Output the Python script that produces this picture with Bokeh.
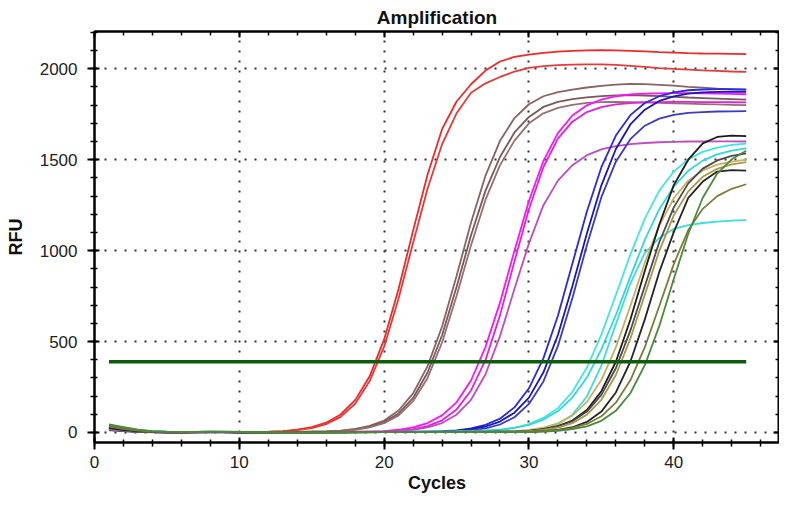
from bokeh.plotting import figure
from bokeh.models import Range1d, LinearAxis, SingleIntervalTicker
from bokeh.embed import file_html
from bokeh.resources import INLINE

cycles = list(range(1, 46))
threshold_rfu = 389
threshold_cycles = [1, 45]

# RFU per cycle
red_a = [30, 16, 7, 3, 2, 2, 3, 4, 3, 2, 2, 4, 8, 16, 29, 54, 99, 178, 309, 512, 790, 1110, 1419,
         1668, 1820, 1915, 1990, 2040, 2065, 2078, 2088, 2094, 2098, 2101, 2102, 2101, 2099, 2096,
         2092, 2089, 2086, 2084, 2083, 2082, 2081]
red_b = [24, 12, 5, 2, 1, 1, 2, 3, 2, 1, 1, 3, 6, 13, 24, 46, 86, 158, 283, 472, 738, 1043, 1342,
         1585, 1755, 1868, 1920, 1955, 1985, 2005, 2015, 2020, 2023, 2024, 2024, 2021, 2016, 2010,
         2004, 1999, 1995, 1991, 1988, 1985, 1983]
brown_a = [26, 14, 6, 3, 2, 1, 2, 3, 3, 2, 1, 1, 2, 3, 4, 6, 10, 20, 36, 66, 121, 215, 365, 583,
           860, 1155, 1413, 1604, 1729, 1805, 1849, 1872, 1885, 1897, 1906, 1913, 1917, 1916, 1912,
           1907, 1901, 1896, 1891, 1887, 1884]
brown_b = [18, 10, 5, 2, 1, 1, 2, 2, 2, 1, 1, 1, 2, 3, 4, 5, 9, 17, 31, 57, 105, 190, 330, 535,
           800, 1085, 1330, 1515, 1650, 1735, 1790, 1818, 1833, 1843, 1850, 1854, 1855, 1853, 1850,
           1846, 1842, 1839, 1836, 1833, 1830]
brown_c = [34, 20, 9, 4, 2, 2, 3, 3, 2, 2, 1, 2, 2, 3, 4, 5, 8, 15, 28, 51, 94, 172, 300, 495,
           750, 1030, 1280, 1470, 1605, 1700, 1755, 1785, 1802, 1812, 1817, 1818, 1817, 1815, 1812,
           1810, 1808, 1806, 1804, 1802, 1800]
magenta_a = [22, 12, 6, 3, 2, 1, 2, 3, 2, 2, 1, 1, 2, 2, 2, 3, 3, 4, 5, 8, 15, 28, 52, 94, 166,
             286, 471, 714, 1000, 1274, 1494, 1646, 1743, 1799, 1831, 1849, 1859, 1863, 1865,
             1866, 1866, 1865, 1864, 1862, 1860]
magenta_b = [16, 9, 4, 2, 1, 1, 1, 2, 2, 1, 1, 1, 1, 2, 2, 2, 3, 3, 4, 5, 9, 18, 35, 67, 126,
             231, 399, 644, 941, 1229, 1460, 1616, 1709, 1762, 1789, 1804, 1811, 1815, 1817, 1818,
             1818, 1817, 1817, 1816, 1815]
orchid = [12, 7, 3, 1, 1, 0, 1, 2, 1, 1, 0, 1, 1, 1, 2, 2, 2, 3, 3, 4, 8, 15, 28, 52, 98, 180,
          320, 530, 790, 1040, 1250, 1385, 1470, 1525, 1557, 1575, 1586, 1592, 1596, 1598, 1600,
          1600, 1601, 1601, 1600]
blue_a = [28, 15, 7, 3, 2, 1, 2, 3, 2, 2, 1, 1, 1, 1, 2, 2, 2, 2, 3, 3, 3, 4, 5, 7, 12, 23, 42,
          76, 138, 243, 409, 642, 929, 1215, 1459, 1633, 1745, 1812, 1849, 1870, 1882, 1886, 1888,
          1888, 1887]
blue_b = [20, 11, 5, 2, 1, 1, 1, 2, 2, 1, 1, 0, 1, 1, 1, 2, 2, 2, 2, 3, 3, 3, 4, 5, 9, 18, 33,
          60, 109, 192, 331, 536, 805, 1094, 1359, 1559, 1694, 1775, 1823, 1848, 1863, 1870, 1873,
          1874, 1873]
blue_c = [14, 8, 4, 2, 1, 1, 1, 1, 1, 1, 0, 0, 1, 1, 1, 1, 1, 2, 2, 2, 2, 2, 3, 3, 6, 12, 23, 44,
          84, 157, 281, 476, 740, 1030, 1294, 1489, 1613, 1687, 1726, 1747, 1758, 1762, 1765, 1766,
          1767]
cyan_a = [42, 28, 14, 7, 4, 3, 3, 4, 4, 3, 2, 2, 1, 1, 1, 2, 2, 2, 3, 3, 3, 4, 4, 5, 6, 8, 11,
          15, 26, 46, 80, 134, 224, 357, 538, 756, 978, 1176, 1330, 1435, 1502, 1543, 1567, 1581,
          1589]
cyan_b = [36, 22, 11, 5, 3, 2, 3, 4, 3, 2, 2, 1, 1, 1, 1, 2, 2, 2, 2, 3, 3, 3, 4, 4, 5, 7, 10,
          15, 25, 42, 71, 118, 192, 302, 457, 646, 857, 1059, 1228, 1352, 1439, 1495, 1529, 1550,
          1562]
cyan_low = [30, 18, 9, 4, 2, 2, 2, 3, 3, 2, 1, 1, 1, 1, 1, 1, 1, 2, 2, 2, 2, 2, 2, 2, 3, 3, 3, 3,
            4, 9, 21, 46, 98, 198, 368, 596, 819, 987, 1070, 1120, 1140, 1152, 1160, 1165, 1168]
khaki_a = [26, 15, 7, 3, 2, 1, 2, 3, 2, 2, 1, 1, 1, 1, 1, 1, 2, 2, 2, 2, 2, 3, 3, 3, 3, 4, 4, 5,
           8, 14, 27, 50, 93, 168, 288, 468, 695, 933, 1139, 1288, 1385, 1441, 1473, 1490, 1500]
black_a = [22, 12, 6, 3, 1, 1, 2, 2, 2, 1, 1, 1, 1, 1, 1, 1, 1, 2, 2, 2, 2, 2, 2, 3, 3, 3, 3, 4,
           5, 9, 18, 35, 66, 124, 227, 389, 620, 889, 1144, 1360, 1500, 1590, 1625, 1632, 1630]
gray_a = [38, 24, 12, 6, 3, 2, 3, 3, 3, 2, 1, 1, 1, 1, 1, 2, 2, 2, 2, 2, 2, 3, 3, 3, 3, 4, 4, 4,
          5, 9, 17, 33, 62, 115, 207, 353, 560, 806, 1046, 1238, 1370, 1451, 1496, 1521, 1535]
khaki_b = [18, 10, 5, 2, 1, 1, 1, 2, 2, 1, 1, 1, 0, 0, 1, 1, 1, 1, 1, 2, 2, 2, 2, 2, 3, 3, 3, 3,
           4, 7, 14, 27, 51, 98, 180, 316, 515, 758, 999, 1194, 1326, 1406, 1450, 1474, 1487]
black_b = [24, 13, 6, 3, 2, 1, 2, 2, 2, 1, 1, 1, 1, 1, 1, 1, 1, 1, 2, 2, 2, 2, 2, 2, 2, 2, 3, 3,
           3, 3, 7, 14, 29, 58, 115, 220, 389, 622, 883, 1102, 1290, 1380, 1435, 1443, 1440]
olive = [34, 20, 10, 5, 3, 2, 2, 3, 3, 2, 1, 1, 1, 1, 1, 1, 1, 2, 2, 2, 2, 2, 2, 2, 2, 2, 2, 3,
         3, 3, 7, 13, 25, 47, 89, 164, 287, 469, 696, 926, 1113, 1230, 1300, 1340, 1365]
green = [44, 30, 16, 8, 4, 3, 3, 4, 4, 3, 2, 2, 1, 1, 1, 1, 1, 1, 1, 2, 2, 2, 2, 2, 2, 2, 2, 2,
         2, 2, 5, 9, 18, 34, 64, 119, 216, 370, 586, 844, 1093, 1291, 1424, 1502, 1549]

curves = [red_a, red_b, brown_a, brown_b, brown_c, magenta_a, magenta_b, orchid,
          blue_a, blue_b, blue_c, cyan_a, cyan_b, cyan_low, khaki_a, black_a, gray_a,
          khaki_b, black_b, olive, green]
colors = ["#f02828", "#e63a3a", "#8a6262", "#7a5858", "#957070", "#ff10ff", "#e020e0", "#c04cc0",
          "#2a2ae0", "#1818b8", "#3a3ac8", "#40e8e0", "#30d8d8", "#38e0d8", "#c8b060", "#1c1c1c",
          "#4a4a4a", "#a89848", "#262626", "#7c7c3c", "#4a8a3a"]

FONT = "Liberation Sans"

p = figure(width=779, height=495, output_backend="svg", toolbar_location=None,
           x_range=Range1d(0, 47.3), y_range=Range1d(-55, 2205),
           title="Amplification", x_axis_label="Cycles", y_axis_label="RFU",
           min_border_left=94, min_border_right=0, min_border_top=0, min_border_bottom=0)

p.background_fill_color = "white"
p.border_fill_color = "white"
p.outline_line_color = "black"
p.outline_line_width = 2

p.title.align = "center"
p.title.text_font = FONT
p.title.text_font_size = "19px"
p.title.text_font_style = "bold"
p.title.text_color = "#111111"
p.title.standoff = 8

xticker = SingleIntervalTicker(interval=10, num_minor_ticks=5)
yticker = SingleIntervalTicker(interval=500, num_minor_ticks=5)
p.xaxis.ticker = xticker
p.yaxis.ticker = yticker
p.xgrid.ticker = xticker
p.ygrid.ticker = yticker

for ax in (p.xaxis[0], p.yaxis[0]):
    ax.axis_line_width = 2
    ax.major_tick_line_width = 2
    ax.minor_tick_line_width = 1.5
    ax.major_tick_in = 5
    ax.major_tick_out = 7
    ax.minor_tick_in = 3
    ax.minor_tick_out = 4
    ax.major_label_text_font = FONT
    ax.major_label_text_font_size = "17px"
    ax.major_label_text_color = "#222222"
    ax.axis_label_text_font = FONT
    ax.axis_label_text_font_size = "18px"
    ax.axis_label_text_font_style = "bold"
    ax.axis_label_text_color = "#111111"
p.xaxis.major_label_standoff = 6
p.xaxis.axis_label_standoff = 2
p.xaxis.axis_label_text_baseline = "bottom"
p.yaxis.major_label_standoff = 10
p.yaxis.axis_label_standoff = 11

# plain tick marks on the top and right edges, no labels
frame_axes = dict(major_label_text_font_size="0px", major_label_text_color=None,
                  major_label_standoff=0, major_tick_in=6, major_tick_out=0,
                  minor_tick_in=4, minor_tick_out=0, axis_line_width=2,
                  major_tick_line_width=2, minor_tick_line_width=1.5)
p.add_layout(LinearAxis(ticker=xticker, **frame_axes), "above")
p.add_layout(LinearAxis(ticker=yticker, **frame_axes), "right")

for g in (p.xgrid[0], p.ygrid[0]):
    g.grid_line_color = "#333333"
    g.grid_line_dash = "2 8"
    g.grid_line_width = 2

for vals, c in zip(curves, colors):
    p.line(cycles, vals, line_color=c, line_width=1.8)

p.line(threshold_cycles, [threshold_rfu, threshold_rfu], line_color="#0b5d0b", line_width=3.5)

open("out.html", "w").write(file_html(p, INLINE))
